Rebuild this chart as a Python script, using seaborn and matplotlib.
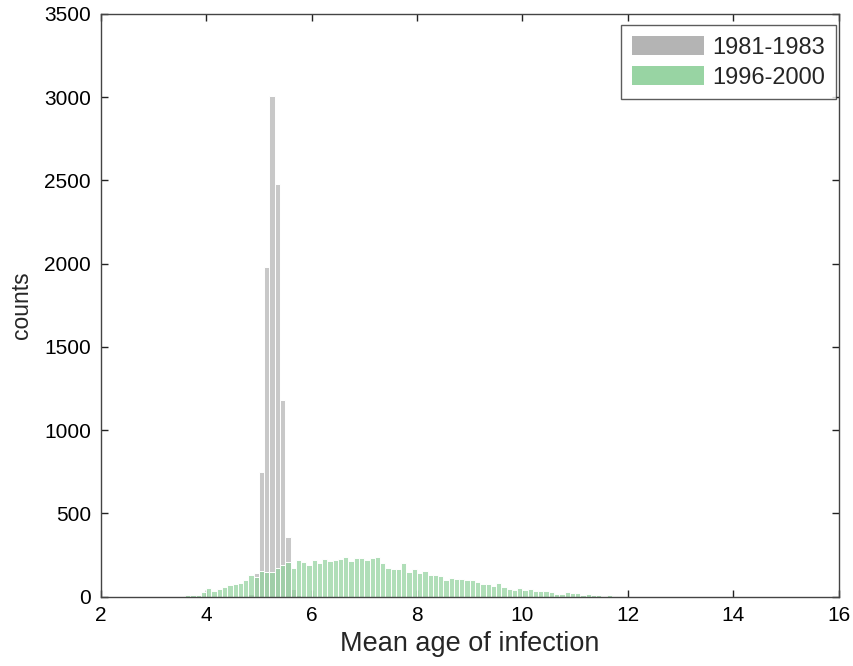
import numpy as np
import pandas as pd
import seaborn as sns
import matplotlib.pyplot as plt
from matplotlib.patches import Patch

# bin width 0.1, counts
bin_width = 0.1

early_label = '1981-1983'
early_start = 4.8
early_counts = [16, 142, 750, 1980, 3010, 2480, 1180, 360, 44, 10]

late_label = '1996-2000'
late_start = 3.6
late_counts = [10, 10, 10, 30, 54, 36, 48, 56, 68, 78,
               82, 100, 128, 120, 156, 150, 150, 174, 188, 208,
               174, 220, 208, 188, 220, 200, 226, 212, 220, 226,
               238, 212, 232, 232, 220, 232, 240, 200, 174, 166,
               166, 200, 148, 166, 142, 154, 130, 130, 122, 100,
               114, 108, 108, 100, 100, 88, 74, 74, 66, 82,
               60, 46, 40, 54, 40, 46, 34, 34, 34, 28,
               16, 16, 28, 22, 22, 10, 16, 10, 10, 0,
               10, 5, 5]


def make_df(start, counts):
    centers = start + bin_width * (np.arange(len(counts)) + 0.5)
    return pd.DataFrame({'age': centers, 'count': counts})


df_early = make_df(early_start, early_counts)
df_late = make_df(late_start, late_counts)

sns.set_style('ticks')
plt.rcParams['font.family'] = ['Liberation Sans', 'DejaVu Sans']

fig = plt.figure(figsize=(8.54, 6.66), dpi=100)
ax = fig.add_axes([0.118, 0.104, 0.864, 0.875])

sns.histplot(data=df_early, x='age', weights='count',
             binwidth=bin_width,
             binrange=(early_start, early_start + bin_width * len(early_counts)),
             color='#c8c8c8', alpha=1, edgecolor='white', linewidth=0.7, ax=ax)
sns.histplot(data=df_late, x='age', weights='count',
             binwidth=bin_width,
             binrange=(late_start, late_start + bin_width * len(late_counts)),
             color='#8fd19b', alpha=0.7, edgecolor='white', linewidth=0.7, ax=ax)

ax.set_xlim(2, 16)
ax.set_ylim(0, 3500)
ax.set_xticks(range(2, 17, 2))
ax.set_yticks(range(0, 3501, 500))
ax.tick_params(direction='in', top=True, right=True, length=5, width=1,
               labelsize=15, pad=7, colors='#222222', labelcolor='black')
for sp in ax.spines.values():
    sp.set_visible(True)
    sp.set_color('#444444')
    sp.set_linewidth(1)

ax.set_xlabel('Mean age of infection', fontsize=19.5, labelpad=4)
ax.set_ylabel('counts', fontsize=16.5, labelpad=8)

handles = [Patch(facecolor='#b4b4b4', edgecolor='none'),
           Patch(facecolor='#98d4a3', edgecolor='none')]
leg = ax.legend(handles, [early_label, late_label], loc='upper right',
                bbox_to_anchor=(0.996, 0.981), borderaxespad=0,
                fontsize=17, frameon=True, fancybox=False,
                handlelength=3.05, handleheight=0.9, borderpad=0.45,
                labelspacing=0.3, handletextpad=0.35)
leg.get_frame().set_edgecolor('#333333')
leg.get_frame().set_linewidth(1)

fig.savefig('out.png', dpi=100)
